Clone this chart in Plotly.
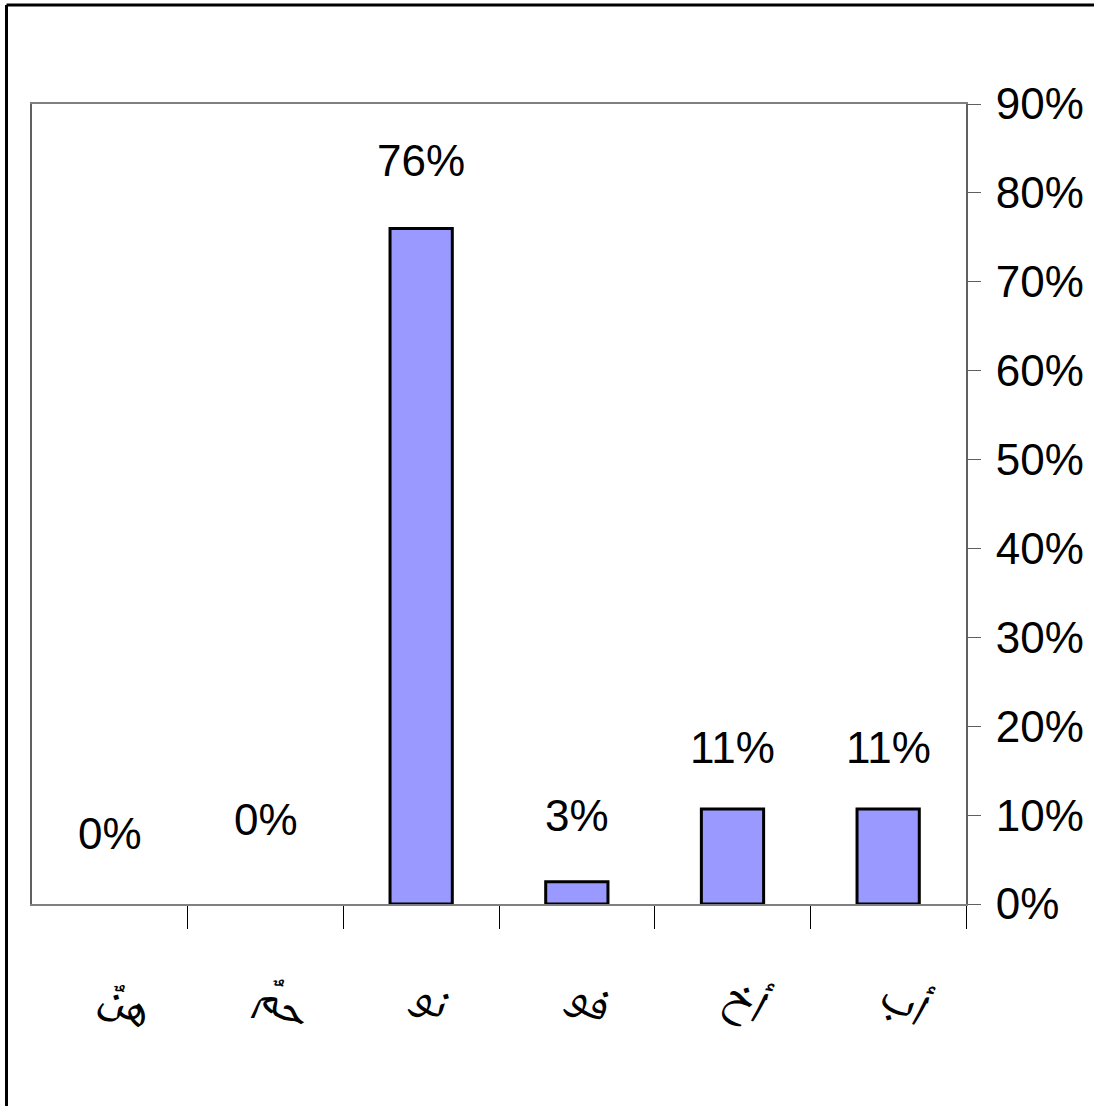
import plotly.graph_objects as go

categories = ["أب", "أخ", "فو", "نو", "حمٌ", "هنٌ"]
values = [0.107, 0.107, 0.025, 0.76, 0.0, 0.0]
labels = ["11%", "11%", "3%", "76%", "0%", "0%"]
label_shift = [61, 61, 66, 68, 85, 71]
y_ticks = [0, 0.1, 0.2, 0.3, 0.4, 0.5, 0.6, 0.7, 0.8, 0.9]

W, H = 1094, 1106
L, R, T, B = 32, 966, 104, 904

NUM_FONT = dict(family="Liberation Sans Narrow, Arial Narrow, Liberation Sans, Arial", size=44, color="black")

fig = go.Figure()
fig.add_trace(go.Bar(
    x=categories, y=values,
    marker=dict(color="#9999FF",
                line=dict(color="black", width=[3 if v > 0 else 0 for v in values])),
    width=0.4, hoverinfo="skip",
))

for c, v, t, s in zip(categories, values, labels, label_shift):
    fig.add_annotation(x=c, y=v, text=t, showarrow=False, yshift=s,
                       xanchor="center", yanchor="middle", font=NUM_FONT)

# outer frame (left and top edges only, as in the reference)
fx0 = (6.5 - L) / (R - L)
fx1 = (W - L) / (R - L)
fy0 = (B - H) / (B - T)
fy1 = (B - 5) / (B - T)
fig.add_shape(type="line", xref="paper", yref="paper",
              x0=fx0, x1=fx0, y0=fy0, y1=fy1, line=dict(color="black", width=3))
fig.add_shape(type="line", xref="paper", yref="paper",
              x0=fx0, x1=fx1, y0=fy1, y1=fy1, line=dict(color="black", width=3))

fig.update_layout(
    width=W, height=H,
    margin=dict(l=L, r=W - R, t=T, b=H - B, pad=0),
    paper_bgcolor="white", plot_bgcolor="white",
    showlegend=False,
    bargap=0.6,
    xaxis=dict(
        type="category", autorange="reversed", automargin=False,
        showline=True, linecolor="#808080", linewidth=2, mirror=True,
        ticks="outside", tickson="boundaries", ticklen=23, tickcolor="black", tickwidth=1,
        showgrid=False, zeroline=False,
        tickfont=dict(family="Noto Naskh Arabic, DejaVu Sans, Noto Sans", size=47, color="black"),
        ticklabelstandoff=44,
    ),
    yaxis=dict(
        side="right", range=[0, 0.9], automargin=False,
        tickvals=y_ticks, tickformat=".0%",
        showline=True, linecolor="#606060", linewidth=2, mirror=True,
        ticks="outside", ticklen=13, tickcolor="#606060", tickwidth=1,
        showgrid=False, zeroline=False,
        tickfont=NUM_FONT,
        ticklabelstandoff=6,
    ),
)

fig.write_html("out.html", config={"displayModeBar": False},
               post_script="document.body.style.margin='0';document.body.style.overflow='hidden';"
                           "document.documentElement.style.overflow='hidden';")
